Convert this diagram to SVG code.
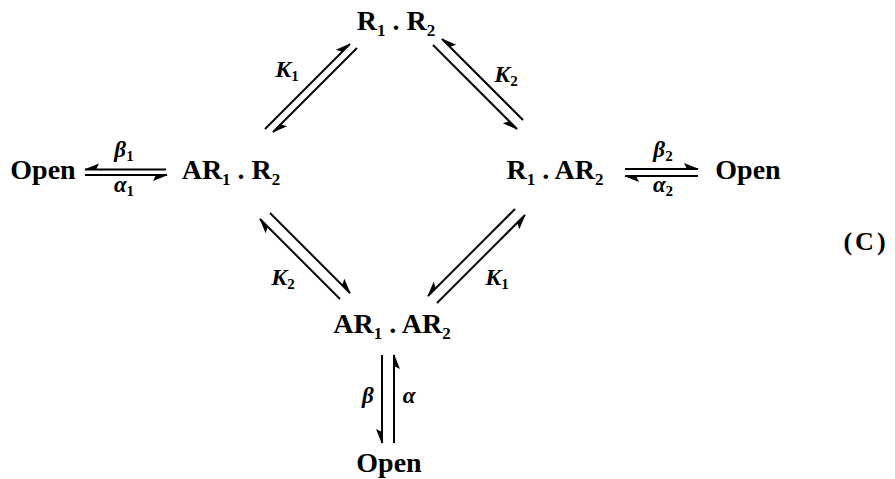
<svg xmlns="http://www.w3.org/2000/svg" width="895" height="479" viewBox="0 0 895 479">
<style>
.t{font-family:"Liberation Serif","Times New Roman",serif;font-weight:bold;font-size:28px;fill:#000;text-anchor:middle}
.s{font-size:17px}
.g{font-family:"Liberation Serif","Times New Roman",serif;font-weight:bold;font-style:italic;font-size:23px;fill:#000;text-anchor:middle}
.gs{font-size:15px;font-style:normal}
.c{fill:none;stroke:#000;stroke-width:2}
</style>
<defs>
<marker id="hp" viewBox="-16 -8 18 16" refX="0" refY="0" markerWidth="18" markerHeight="16" orient="auto" markerUnits="userSpaceOnUse"><path d="M1,0 L-14,6 L-11,0 Z" fill="#000"/></marker>
<marker id="hm" viewBox="-16 -8 18 16" refX="0" refY="0" markerWidth="18" markerHeight="16" orient="auto" markerUnits="userSpaceOnUse"><path d="M1,0 L-14,-6 L-11,0 Z" fill="#000"/></marker>
</defs>
<rect width="895" height="479" fill="#fff"/>
<g id="open-left"><text class="t" x="43" y="179">Open</text></g>
<g id="ar1r2"><text class="t" x="231" y="179">AR<tspan class="s" dy="6">1</tspan><tspan dy="-6"> . R</tspan><tspan class="s" dy="6">2</tspan></text></g>
<g id="r1r2"><text class="t" x="396" y="30">R<tspan class="s" dy="6">1</tspan><tspan dy="-6"> . R</tspan><tspan class="s" dy="6">2</tspan></text></g>
<g id="r1ar2"><text class="t" x="555" y="179">R<tspan class="s" dy="6">1</tspan><tspan dy="-6"> . AR</tspan><tspan class="s" dy="6">2</tspan></text></g>
<g id="open-right"><text class="t" x="748" y="179">Open</text></g>
<g id="ar1ar2"><text class="t" x="392" y="333">AR<tspan class="s" dy="6">1</tspan><tspan dy="-6"> . AR</tspan><tspan class="s" dy="6">2</tspan></text></g>
<g id="open-bottom"><text class="t" x="389" y="472">Open</text></g>
<g id="label-c"><text class="t" x="866" y="250" style="font-size:26px;letter-spacing:3px">(C)</text></g>
<g id="connectors">
<path class="c" d="M166,169.5 L85,169.5" marker-end="url(#hp)"/>
<path class="c" d="M85,175 L167,175" marker-end="url(#hp)"/>
<path class="c" d="M625,169 L698,169" marker-end="url(#hm)"/>
<path class="c" d="M698,176 L625,176" marker-end="url(#hm)"/>
<path class="c" d="M265,129 L350,44" marker-end="url(#hm)"/>
<path class="c" d="M357,48 L273,132" marker-end="url(#hm)"/>
<path class="c" d="M523,120 L442,39" marker-end="url(#hp)"/>
<path class="c" d="M433,45 L517,129" marker-end="url(#hp)"/>
<path class="c" d="M340,299 L260,219" marker-end="url(#hm)"/>
<path class="c" d="M270,213 L350,293" marker-end="url(#hm)"/>
<path class="c" d="M515,209 L428,296" marker-end="url(#hp)"/>
<path class="c" d="M437,303 L525,215" marker-end="url(#hp)"/>
<path class="c" d="M382,355 L382,443" marker-end="url(#hp)"/>
<path class="c" d="M394,443 L394,355" marker-end="url(#hp)"/>
</g>
<g id="connector-labels">
<text class="g" x="124" y="157">β<tspan class="gs" dy="4">1</tspan></text>
<text class="g" x="124" y="192">α<tspan class="gs" dy="4">1</tspan></text>
<text class="g" x="663" y="157">β<tspan class="gs" dy="4">2</tspan></text>
<text class="g" x="663" y="192">α<tspan class="gs" dy="4">2</tspan></text>
<text class="g" x="287" y="77" style="font-size:24px">K<tspan class="gs" dy="4">1</tspan></text>
<text class="g" x="506" y="82" style="font-size:24px">K<tspan class="gs" dy="4">2</tspan></text>
<text class="g" x="283" y="285" style="font-size:24px">K<tspan class="gs" dy="4">2</tspan></text>
<text class="g" x="497" y="285" style="font-size:24px">K<tspan class="gs" dy="4">1</tspan></text>
<text class="g" x="368" y="403">β</text>
<text class="g" x="409" y="403">α</text>
</g>
</svg>
